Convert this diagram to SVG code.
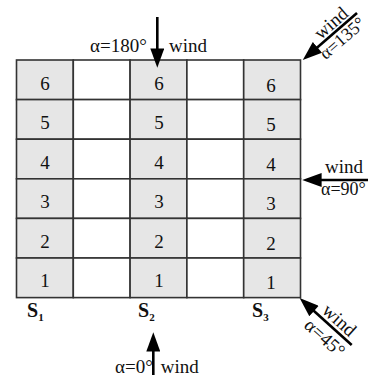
<svg xmlns="http://www.w3.org/2000/svg" width="368" height="379" viewBox="0 0 368 379">
<defs>
<style>
.cell{stroke:#333;stroke-width:1.6}
.g{fill:#e6e6e6}
.w{fill:#fff}
text{font-family:"Liberation Serif","Times New Roman",serif;fill:#111}
.num{font-size:19px;text-anchor:middle}
.lbl{font-size:19px}
.sm{font-size:18px}
.s{font-size:20px;font-weight:bold}
.sub{font-size:11px;font-weight:bold}
.arr{stroke:#000;stroke-width:2.6;fill:none;marker-end:url(#ah)}
</style>
<marker id="ah" markerUnits="userSpaceOnUse" markerWidth="20" markerHeight="14" refX="8" refY="6.5" orient="auto" viewBox="0 0 18 13">
<path d="M0,0 L18,6.5 L0,13 Z" fill="#000"/>
</marker>
</defs>
<rect width="368" height="379" fill="#fff"/>
<g id="grid">
<rect class="cell g" x="16.5" y="60" width="56.8" height="39.6"/>
<rect class="cell w" x="73.3" y="60" width="56.8" height="39.6"/>
<rect class="cell g" x="130.1" y="60" width="56.8" height="39.6"/>
<rect class="cell w" x="186.9" y="60" width="56.8" height="39.6"/>
<rect class="cell g" x="243.7" y="60" width="56.8" height="39.6"/>
<rect class="cell g" x="16.5" y="99.6" width="56.8" height="39.6"/>
<rect class="cell w" x="73.3" y="99.6" width="56.8" height="39.6"/>
<rect class="cell g" x="130.1" y="99.6" width="56.8" height="39.6"/>
<rect class="cell w" x="186.9" y="99.6" width="56.8" height="39.6"/>
<rect class="cell g" x="243.7" y="99.6" width="56.8" height="39.6"/>
<rect class="cell g" x="16.5" y="139.2" width="56.8" height="39.6"/>
<rect class="cell w" x="73.3" y="139.2" width="56.8" height="39.6"/>
<rect class="cell g" x="130.1" y="139.2" width="56.8" height="39.6"/>
<rect class="cell w" x="186.9" y="139.2" width="56.8" height="39.6"/>
<rect class="cell g" x="243.7" y="139.2" width="56.8" height="39.6"/>
<rect class="cell g" x="16.5" y="178.8" width="56.8" height="39.6"/>
<rect class="cell w" x="73.3" y="178.8" width="56.8" height="39.6"/>
<rect class="cell g" x="130.1" y="178.8" width="56.8" height="39.6"/>
<rect class="cell w" x="186.9" y="178.8" width="56.8" height="39.6"/>
<rect class="cell g" x="243.7" y="178.8" width="56.8" height="39.6"/>
<rect class="cell g" x="16.5" y="218.4" width="56.8" height="39.6"/>
<rect class="cell w" x="73.3" y="218.4" width="56.8" height="39.6"/>
<rect class="cell g" x="130.1" y="218.4" width="56.8" height="39.6"/>
<rect class="cell w" x="186.9" y="218.4" width="56.8" height="39.6"/>
<rect class="cell g" x="243.7" y="218.4" width="56.8" height="39.6"/>
<rect class="cell g" x="16.5" y="258" width="56.8" height="39.6"/>
<rect class="cell w" x="73.3" y="258" width="56.8" height="39.6"/>
<rect class="cell g" x="130.1" y="258" width="56.8" height="39.6"/>
<rect class="cell w" x="186.9" y="258" width="56.8" height="39.6"/>
<rect class="cell g" x="243.7" y="258" width="56.8" height="39.6"/>
</g>
<g id="S1">
<text class="num" x="45" y="89.5">6</text>
<text class="num" x="45" y="129">5</text>
<text class="num" x="45" y="168.6">4</text>
<text class="num" x="45" y="208.2">3</text>
<text class="num" x="45" y="247.8">2</text>
<text class="num" x="45" y="287.4">1</text>
<text class="s" x="27" y="316.5">S<tspan class="sub" dy="4">1</tspan></text>
</g>
<g id="S2">
<text class="num" x="159" y="89.5">6</text>
<text class="num" x="159" y="129">5</text>
<text class="num" x="159" y="168.6">4</text>
<text class="num" x="159" y="208.2">3</text>
<text class="num" x="159" y="247.8">2</text>
<text class="num" x="159" y="287.4">1</text>
<text class="s" x="138" y="316.5">S<tspan class="sub" dy="4">2</tspan></text>
</g>
<g id="S3">
<text class="num" x="271" y="91.5">6</text>
<text class="num" x="271" y="131">5</text>
<text class="num" x="271" y="170.6">4</text>
<text class="num" x="271" y="210.2">3</text>
<text class="num" x="271" y="249.8">2</text>
<text class="num" x="271" y="289.4">1</text>
<text class="s" x="252" y="316.5">S<tspan class="sub" dy="4">3</tspan></text>
</g>
<g id="connectors">
<line class="arr" x1="157.3" y1="17" x2="157.3" y2="57"/>
<line class="arr" x1="153.3" y1="375" x2="153.3" y2="343"/>
<line class="arr" x1="368" y1="180" x2="313" y2="180"/>
<line class="arr" x1="357" y1="13" x2="310.9" y2="53"/>
<line class="arr" x1="351.7" y1="345" x2="307.6" y2="305.3"/>
</g>
<g id="wind-labels">
<text class="lbl" x="90" y="52">α=180°</text>
<text class="lbl" x="169" y="52">wind</text>
<text class="lbl" x="115" y="372.7">α=0°</text>
<text class="lbl" x="160.7" y="372.7">wind</text>
<text class="lbl" x="325" y="173.3">wind</text>
<text class="lbl sm" x="321" y="195">α=90°</text>
<g transform="translate(337.1,30.1) rotate(-41)"><text class="lbl" x="0" y="-3" text-anchor="middle">wind</text></g>
<g transform="translate(316,49) rotate(-41)"><text class="lbl sm" x="0" y="15">α=135°</text></g>
<g transform="translate(332.5,327.8) rotate(42)"><text class="lbl" x="0" y="-4" text-anchor="middle">wind</text></g>
<g transform="translate(333.3,328.5) rotate(42)"><text class="lbl" x="0" y="19" text-anchor="middle">α=45°</text></g>
</g>
</svg>
